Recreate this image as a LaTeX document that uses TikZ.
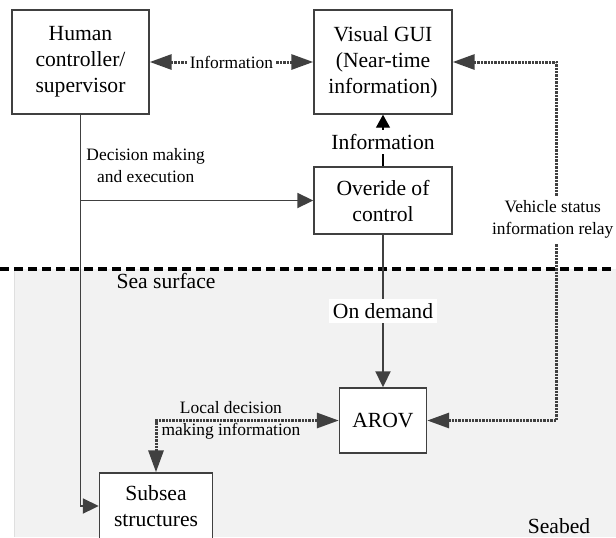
\documentclass[tikz,border=0pt]{standalone}
\usepackage{fontspec}
\setmainfont{Liberation Serif}
\usetikzlibrary{arrows.meta,positioning}
\definecolor{linegray}{HTML}{404040}
\definecolor{seagray}{HTML}{F2F2F2}
\def\boxfont{\fontsize{10.8}{13}\selectfont}
\def\lblfont{\fontsize{8.7}{11}\selectfont}

\begin{document}
\begin{tikzpicture}[x=0.5pt,y=0.5pt,on grid,
	block/.style={draw=linegray,line width=0.7pt,fill=white,align=center,font=\boxfont,inner sep=0pt},
	ctrl/.style={draw=linegray,line width=0.95pt,-{Triangle[length=8pt,width=7.5pt]}},
	relay/.style={draw=linegray,line width=1.5pt,dash pattern=on 1.2pt off 0.5pt,{Triangle[length=11pt,width=7.5pt]}-{Triangle[length=11pt,width=7.5pt]}},
	lbl/.style={font=\lblfont,align=center,inner sep=1pt},
	tag/.style={font=\boxfont,inner sep=2pt}]
\useasboundingbox (0,0) rectangle (616,-537);
% sea
\fill[seagray]	(14,-269) rectangle (616,-537);
\draw[gray!25]	(14.5,-269) -- (14.5,-537);
\draw[black,line width=2pt,dash pattern=on 4.5pt off 2.5pt]	(0,-269) -- (616,-269);
\node[tag]	(surface)	at (166,-281)	{Sea surface};
\node[tag]	(seabed)	at (559,-526)	{Seabed};
% blocks
\node[block,minimum width=68.5pt,minimum height=52pt]	(human)		at (80.5,-62)					{Human\\controller/\\supervisor};
\node[block,minimum width=69pt,minimum height=52pt]		(gui)		[right=151.25pt of human]		{Visual GUI\\(Near-time\\information)};
\node[block,minimum width=69pt,minimum height=33.5pt]	(override)	[below=69.25pt of gui]			{Overide of\\control};
\node[block,minimum width=43.5pt,minimum height=32.5pt]	(arov)		[below=110pt of override]		{AROV};
\node[block,minimum width=56.5pt,minimum height=33pt]	(subsea)	[below left=42.75pt and 113.5pt of arov]	{Subsea\\structures};
\coordinate	(relayx)	at ([xshift=52pt]gui.east);
% links
\draw[ctrl]	(human.south) |- (subsea.west);
\draw[ctrl]	(human.south |- override.west)	-- node[lbl,pos=0.28,above=7.5pt]	{Decision making\\and execution}	(override.west);
\draw[ctrl]	(override.south)	-- node[tag,fill=white]	{On demand}	(arov.north);
\draw[black,line width=0.6pt,-{Triangle[length=6.5pt,width=7pt]}]	(override.north)	-- node[tag,fill=white,pos=0.47]	{Information}	(gui.south);
\draw[relay]	(human.east)	-- node[lbl,fill=white]	{Information}	(gui.west);
\draw[relay]	(gui.east) -- (relayx)	-- node[lbl,fill=white,pos=0.44,xshift=-2pt,inner ysep=2pt]	{Vehicle status\\information relay}	(relayx |- arov.east) -- (arov.east);
\draw[relay]	(arov.west)	-- node[lbl,pos=0.59]	{Local decision\\making information}	(arov.west -| subsea.north) -- (subsea.north);
\end{tikzpicture}
\end{document}
